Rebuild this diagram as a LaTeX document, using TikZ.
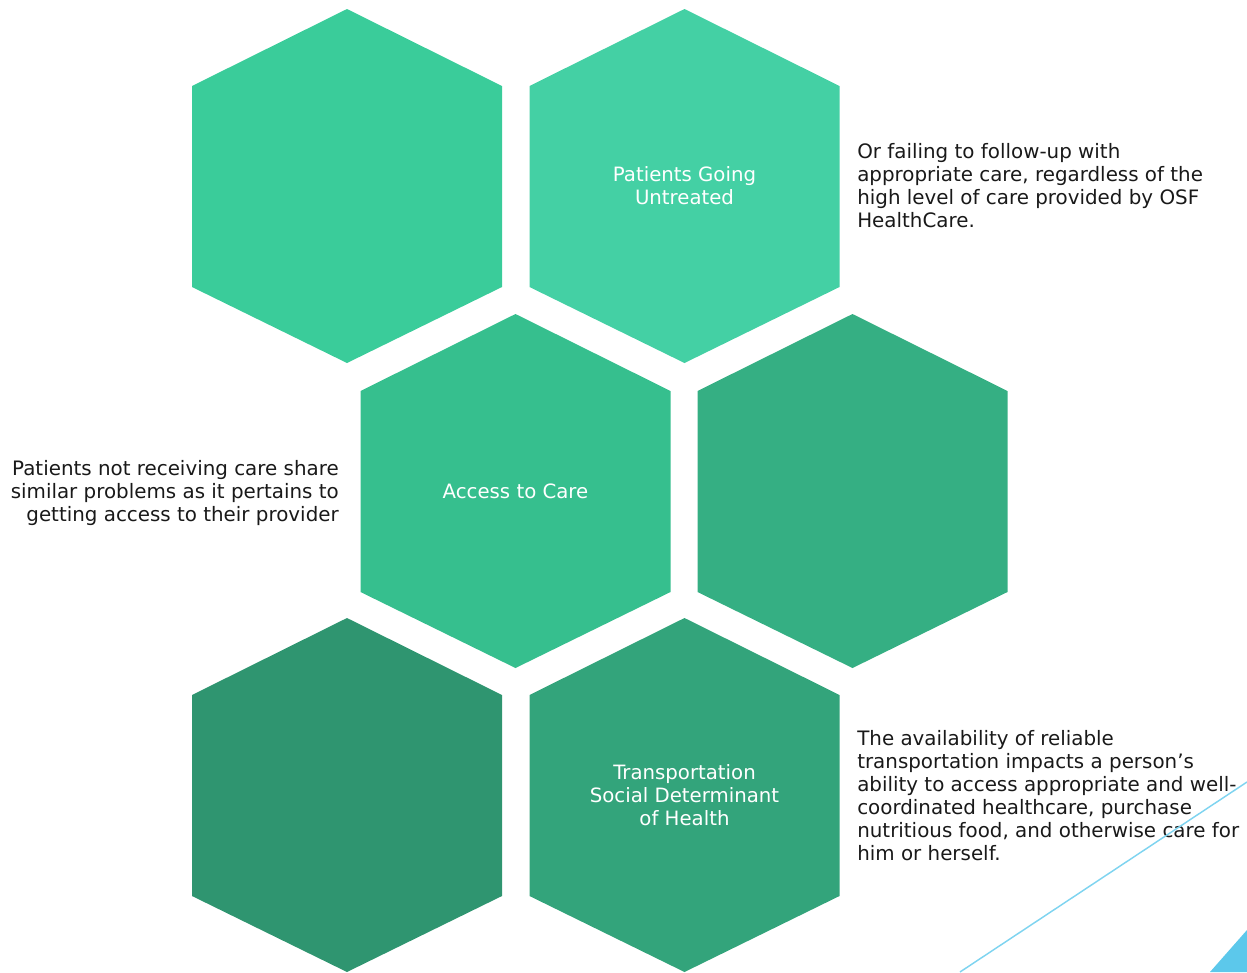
\documentclass[tikz,border=0pt]{standalone}
\usepackage{fontspec}
\setmainfont{DejaVu Sans}
\definecolor{hexA}{HTML}{3ACC9A}
\definecolor{hexB}{HTML}{44D0A4}
\definecolor{hexC}{HTML}{36BF8E}
\definecolor{hexD}{HTML}{35AF83}
\definecolor{hexE}{HTML}{2F9570}
\definecolor{hexF}{HTML}{33A47B}
\definecolor{skyline}{HTML}{7FD4F0}
\definecolor{skyfill}{HTML}{5CC8EB}
\begin{document}
\begin{tikzpicture}[x=.75pt,y=-.75pt,
  hexlabel/.style={text=white,align=center,font=\fontsize{14.8}{17.4}\selectfont},
  note/.style={text=black!90,inner sep=0pt,font=\fontsize{14.9}{17.25}\selectfont}]
  \useasboundingbox (0,0) rectangle (1247,972);
  % honeycomb
  \foreach \name/\cx/\cy/\col in {hu/347/186/hexA,hv/684.5/186/hexB,hw/515.5/491/hexC,hx/852.5/491/hexD,hy/347/795/hexE,hz/684.5/795/hexF}{
    \fill[\col] (\cx,\cy-177) -- ++(155,77) -- ++(0,201) -- ++(-155,76) -- ++(-155,-76) -- ++(0,-201) -- cycle;
    \coordinate (\name) at (\cx,\cy);
  }
  \node[hexlabel] (untreated) at (hv) {Patients Going\\Untreated};
  \node[hexlabel] (access) at (hw) {Access to Care};
  \node[hexlabel] (transport) at (hz) {Transportation\\Social Determinant\\of Health};
  % side notes
  \node[note,anchor=north west,align=left] (noteuntreated) at (857,143) {Or failing to follow-up with\\appropriate care, regardless of the\\high level of care provided by OSF\\HealthCare.};
  \node[note,anchor=north east,align=right] (noteaccess) at (339,460) {Patients not receiving care share\\similar problems as it pertains to\\getting access to their provider};
  \node[note,anchor=north west,align=left] (notetransport) at (857,730) {The availability of reliable\\transportation impacts a person’s\\ability to access appropriate and well-\\coordinated healthcare, purchase\\nutritious food, and otherwise care for\\him or herself.};
  % corner accent
  \draw[skyline,line width=1.1pt] (960,972) -- (1247,782);
  \fill[skyfill] (1210,972) -- (1247,930) -- (1247,972) -- cycle;
\end{tikzpicture}
\end{document}
